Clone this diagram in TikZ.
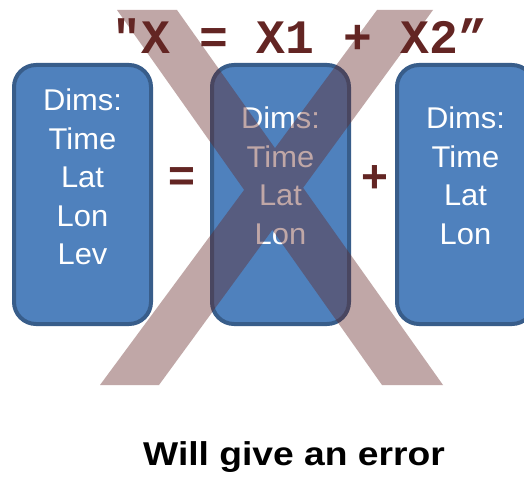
\documentclass[tikz,border=0pt]{standalone}
\usepackage{fontspec}
\setmainfont{Liberation Sans}
\newfontfamily\codefont[Ligatures=TeXOff]{Liberation Mono}
\definecolor{boxfill}{RGB}{79,129,189}
\definecolor{boxline}{RGB}{56,93,138}
\definecolor{darkred}{RGB}{99,37,35}
\begin{document}
\begin{tikzpicture}[x=1pt,y=-1pt,
  dimbox/.style={draw=boxline, fill=boxfill, line width=4pt, rounded corners=22pt,
    minimum width=137pt, minimum height=259pt, inner sep=0pt},
  dimtext/.style={text=white, align=center, inner sep=0pt, anchor=north,
    font=\fontsize{30}{38.5}\selectfont, xscale=1.03},
  op/.style={text=darkred, font=\fontsize{46}{46}\selectfont\bfseries, inner sep=0pt}]
\clip (0,0) rectangle (524,476);
\fill[white] (0,0) rectangle (524,476);
% boxes
\node[dimbox] (b1) at (82.5,194.5) {};
\node[dimbox] (b2) at (280.5,194.5) {};
\node[dimbox] (b3) at (465.5,194.5) {};
\node[dimtext] (t1) at (82.5,89) {Dims:\\Time\\Lat\\Lon\\Lev};
\node[dimtext] (t2) at (280.5,107) {Dims:\\Time\\Lat\\Lon};
\node[dimtext] (t3) at (465.5,107) {Dims:\\Time\\Lat\\Lon};
% big cross
\fill[darkred, opacity=0.4]
  (117,10) -- (177,10) -- (443,385) -- (382,385) -- cycle
  (377,10) -- (433,10) -- (159,385) -- (100,385) -- cycle;
% operators
\node[op] (eq) at (182.3,179.2) {=};
\node[op] (plus) at (374.5,179) {+};
% title
\node[text=darkred, anchor=base, inner sep=0pt,
  font=\codefont\bfseries\fontsize{48}{48}\selectfont] (title) at (300,54) {"X = X1 + X2”};
% message
\node[anchor=base, inner sep=0pt, xscale=1.128,
  font=\bfseries\fontsize{33}{33}\selectfont] (msg) at (294,465) {Will give an error};
\end{tikzpicture}
\end{document}
